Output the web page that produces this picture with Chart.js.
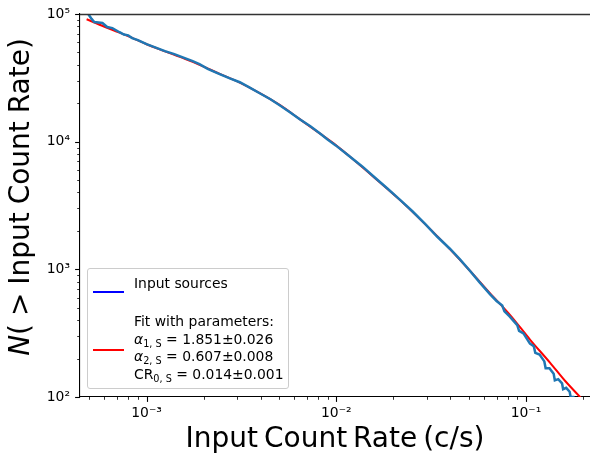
<!DOCTYPE html>
<html>
<head>
<meta charset="utf-8">
<script src="https://cdn.jsdelivr.net/npm/chart.js@4/dist/chart.umd.min.js"></script>
<style>
    html, body { margin: 0; padding: 0; background: #fff; }
    #wrap { position: relative; width: 590px; height: 454px; overflow: hidden; font-family: 'DejaVu Sans', sans-serif; color: #000; }
    #xtitle { position: absolute; left: 80px; width: 510px; top: 424px; text-align: center; font-size: 28px; line-height: 28px; word-spacing: -3px; white-space: nowrap; }
    #ytitle { position: absolute; left: -180px; top: 183px; width: 400px; text-align: center; font-size: 28px; line-height: 28px; word-spacing: -1px; white-space: nowrap; transform: rotate(-90deg); transform-origin: 50% 50%; }
    #legend { position: absolute; left: 87px; top: 268px; width: 200px; height: 119px; border: 1px solid #cccccc; border-radius: 3px; background: rgba(255,255,255,0.8); }
    .handle { position: absolute; left: 5px; width: 31px; height: 2px; }
    .ltext { position: absolute; left: 46px; font-size: 13.9px; line-height: 14px; white-space: nowrap; }
    .ltext sub { font-size: 9.7px; vertical-align: -3px; line-height: 0; }
</style>
</head>
<body>
<div id="wrap">
    <canvas id="chart" width="590" height="454"></canvas>
    <div id="ytitle"><i>N</i>( &gt; Input Count Rate)</div>
    <div id="xtitle">Input Count Rate (c/s)</div>
    <div id="legend">
        <div class="handle" style="top:22px;background:#0000ff"></div>
        <div class="ltext" style="top:7px">Input sources</div>
        <div class="handle" style="top:80px;background:#ff0000"></div>
        <div class="ltext" style="top:45px">Fit with parameters:</div>
        <div class="ltext" style="top:62.5px"><i>α</i><sub>1, S</sub> = 1.851±0.026</div>
        <div class="ltext" style="top:80px"><i>α</i><sub>2, S</sub> = 0.607±0.008</div>
        <div class="ltext" style="top:97.5px">CR<sub>0, S</sub> = 0.014±0.001</div>
    </div>
</div>
<script>
// Data
const srcRate = [4.85e-4, 4.95e-4, 5.13e-4, 5.3e-4, 5.85e-4, 6.2e-4, 6.6e-4, 7.2e-4, 7.6e-4, 8.0e-4,
    8.4e-4, 9.0e-4, 1.0e-3, 1.1e-3, 1.25e-3, 1.4e-3, 1.59e-3, 1.75e-3, 1.9e-3, 2.1e-3,
    2.43e-3, 2.75e-3, 3.1e-3, 3.5e-3, 3.95e-3, 4.5e-3, 5.03e-3, 5.7e-3, 6.42e-3, 7.3e-3,
    8.18e-3, 9.0e-3, 9.94e-3, 0.01178, 0.0137, 0.01596, 0.0186, 0.02163, 0.0252, 0.02931,
    0.0341, 0.03972, 0.045, 0.05064, 0.057, 0.06457, 0.07, 0.075, 0.077, 0.082,
    0.09, 0.092, 0.097, 0.105, 0.11, 0.112, 0.118, 0.125, 0.127, 0.133,
    0.14, 0.142, 0.148, 0.155, 0.157, 0.163, 0.17, 0.172, 0.178, 0.183];
const srcN = [106000, 99000, 91500, 86500, 85000, 79000, 77500, 72000, 69000, 68000,
    64800, 62500, 58000, 55000, 51200, 48500, 45100, 42800, 40500, 37200,
    33800, 31300, 29200, 26500, 23950, 21500, 19300, 17000, 14970, 13200,
    11620, 10400, 9350, 7660, 6400, 5240, 4300, 3520, 2850, 2280,
    1800, 1450, 1190, 975, 790, 640, 565, 520, 470, 428,
    365, 330, 315, 262, 250, 222, 215, 190, 168, 168,
    152, 135, 138, 128, 115, 118, 110, 100, 100, 93];

const fitRate = [4.83e-4, 6.0e-4, 7.2e-4, 8.4e-4, 1.0e-3, 1.25e-3, 1.59e-3, 1.9e-3, 2.43e-3, 3.1e-3,
    3.95e-3, 5.03e-3, 6.42e-3, 8.18e-3, 9.94e-3, 0.01178, 0.01596, 0.02163, 0.02931, 0.03972,
    0.05064, 0.06457, 0.08233, 0.105, 0.1338, 0.1606, 0.1928, 0.2];
const fitN = [91000, 79500, 71500, 65000, 58000, 51000, 44500, 40000, 34000, 29000,
    24000, 19400, 15000, 11600, 9400, 7650, 5200, 3500, 2270, 1440,
    975, 650, 440, 282, 186, 134, 100, 94];

const xMin = 4.457e-4, xMax = 0.2176;
const yMin = 100, yMax = 100000;
const xTickValues = [1e-3, 1e-2, 1e-1];
const xTickLabels = ['10\u207B\u00B3', '10\u207B\u00B2', '10\u207B\u00B9'];
const yTickValues = [1e2, 1e3, 1e4, 1e5];
const yTickLabels = ['10\u00B2', '10\u00B3', '10\u2074', '10\u2075'];

// major + minor (2..9) ticks inside the range
function logTicks(majors, min, max) {
    const out = [];
    majors.concat([majors[0] / 10]).forEach(m => {
        for (let k = 1; k <= 9; k++) {
            const v = +(m * k).toPrecision(3);
            if (v >= min * 0.999 && v <= max * 1.001) out.push({ value: v, major: k === 1 });
        }
    });
    return out.sort((a, b) => a.value - b.value);
}

function tickLabel(values, labels) {
    return (v) => {
        const i = values.findIndex(t => Math.abs(t - v) / t < 1e-6);
        return i >= 0 ? labels[i] : '';
    };
}

// matplotlib style ticks and top spine
const frame = {
    id: 'frame',
    afterDraw(chart) {
        const ctx = chart.ctx, a = chart.chartArea;
        const xs = chart.scales.x, ys = chart.scales.y;
        ctx.save();
        ctx.strokeStyle = '#000';
        xs.ticks.forEach(t => {
            const p = Math.round(xs.getPixelForValue(t.value)) + 0.5;
            ctx.lineWidth = t.major ? 1.1 : 0.8;
            ctx.beginPath();
            ctx.moveTo(p, a.bottom);
            ctx.lineTo(p, a.bottom + (t.major ? 4.9 : 2.8));
            ctx.stroke();
        });
        ys.ticks.forEach(t => {
            const p = Math.round(ys.getPixelForValue(t.value)) + 0.5;
            ctx.lineWidth = t.major ? 1.1 : 0.8;
            ctx.beginPath();
            ctx.moveTo(a.left, p);
            ctx.lineTo(a.left - (t.major ? 4.9 : 2.8), p);
            ctx.stroke();
        });
        ctx.strokeStyle = '#333';
        ctx.lineWidth = 1.3;
        ctx.beginPath();
        ctx.moveTo(a.left, a.top + 0.5);
        ctx.lineTo(a.right, a.top + 0.5);
        ctx.stroke();
        ctx.restore();
    }
};

new Chart(document.getElementById('chart'), {
    type: 'line',
    data: {
        datasets: [{
            label: 'Input sources',
            data: srcRate.map((r, i) => ({ x: r, y: srcN[i] })),
            borderColor: '#1f77b4',
            borderWidth: 2.5,
            pointRadius: 0,
            tension: 0,
            clip: 0,
            order: 0
        }, {
            label: 'Fit',
            data: fitRate.map((r, i) => ({ x: r, y: fitN[i] })),
            borderColor: '#ff0000',
            borderWidth: 2,
            pointRadius: 0,
            cubicInterpolationMode: 'monotone',
            clip: 0,
            order: 1
        }]
    },
    options: {
        responsive: false,
        animation: false,
        layout: { padding: { top: 14, right: 0, left: 0, bottom: 0 } },
        plugins: { legend: { display: false }, tooltip: { enabled: false } },
        scales: {
            x: {
                type: 'logarithmic',
                min: xMin,
                max: xMax,
                afterBuildTicks: s => { s.ticks = logTicks(xTickValues, xMin, xMax); },
                afterFit: s => { s.height = 57; },
                grid: { display: false, drawTicks: true, tickLength: 5 },
                border: { display: true, color: '#000', width: 1.1 },
                ticks: {
                    autoSkip: false,
                    maxRotation: 0,
                    padding: 3,
                    color: '#000',
                    font: { family: 'DejaVu Sans', size: 13.9 },
                    callback: tickLabel(xTickValues, xTickLabels)
                }
            },
            y: {
                type: 'logarithmic',
                min: yMin,
                max: yMax,
                afterBuildTicks: s => { s.ticks = logTicks(yTickValues, yMin, yMax); },
                afterFit: s => { s.width = 80; },
                grid: { display: false, drawTicks: true, tickLength: 5 },
                border: { display: true, color: '#000', width: 1.1 },
                ticks: {
                    autoSkip: false,
                    padding: 5,
                    color: '#000',
                    font: { family: 'DejaVu Sans', size: 13.9 },
                    callback: tickLabel(yTickValues, yTickLabels)
                }
            }
        }
    },
    plugins: [frame]
});
</script>
</body>
</html>
